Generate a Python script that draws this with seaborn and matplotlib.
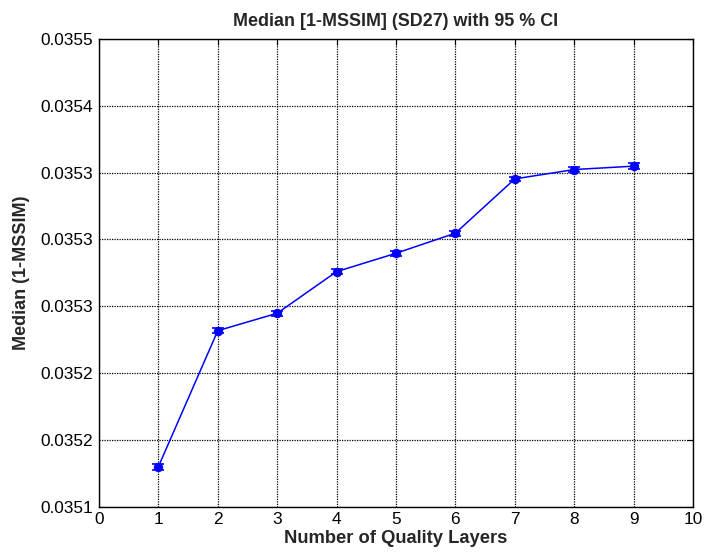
import numpy as np
import pandas as pd
import matplotlib
matplotlib.use("Agg")
import matplotlib.pyplot as plt
from matplotlib.ticker import FixedLocator, FixedFormatter
import seaborn as sns

# Median 1-MSSIM per number of quality layers, with 95 % CI half-widths
layers = [1, 2, 3, 4, 5, 6, 7, 8, 9]
median_mssim = [0.0351342, 0.0352505, 0.0352654, 0.0353010, 0.0353167,
                0.0353339, 0.0353803, 0.0353883, 0.0353912]
ci_halfwidth = [2.6e-6, 2.2e-6, 2.0e-6, 2.2e-6, 2.0e-6, 2.2e-6, 2.0e-6, 2.0e-6, 2.4e-6]

x_ticks = list(range(0, 11))
y_limits = (0.0351, 0.0355)
y_tick_labels = ["0.0351", "0.0352", "0.0352", "0.0353",
                 "0.0353", "0.0353", "0.0354", "0.0355"]

sns.set_style("white")
plt.rcParams["font.family"] = ["Liberation Sans", "DejaVu Sans"]

df = pd.DataFrame({"layers": layers, "median": median_mssim, "ci": ci_halfwidth})

fig = plt.figure(figsize=(7.04, 5.56), dpi=100)
ax = fig.add_axes([0.1406, 0.0887, 0.8438, 0.8413])

blue = (0, 0, 1)
sns.lineplot(data=df, x="layers", y="median", ax=ax, color=blue,
             linewidth=1.1, marker="o", markersize=6,
             markeredgecolor=blue, markerfacecolor=blue, zorder=4)
ax.errorbar(df["layers"], df["median"], yerr=df["ci"], fmt="none",
            ecolor=blue, elinewidth=1.1, capsize=4.5, capthick=1.2, zorder=4)

ax.set_xlim(0, 10)
ax.set_ylim(*y_limits)
ax.xaxis.set_major_locator(FixedLocator(x_ticks))
ax.set_xticklabels([str(t) for t in x_ticks])
y_ticks = np.linspace(y_limits[0], y_limits[1], len(y_tick_labels))
ax.yaxis.set_major_locator(FixedLocator(y_ticks))
ax.yaxis.set_major_formatter(FixedFormatter(y_tick_labels))

ax.grid(True, color="black", linestyle=(0, (1, 1)), linewidth=0.9)
ax.set_axisbelow(True)
for side in ax.spines.values():
    side.set_color("black")
    side.set_linewidth(1.0)
ax.tick_params(direction="in", length=4, width=0.8, top=True, right=True,
               labelsize=12.4, pad=4, colors="black")

ax.set_title("Median [1-MSSIM] (SD27) with 95 % CI", fontsize=12.9,
             fontweight="bold", pad=9)
ax.set_xlabel("Number of Quality Layers", fontsize=13.2, fontweight="bold", labelpad=2)
ax.set_ylabel("Median (1-MSSIM)", fontsize=13, fontweight="bold", labelpad=8)

fig.savefig("out.png", dpi=100)
